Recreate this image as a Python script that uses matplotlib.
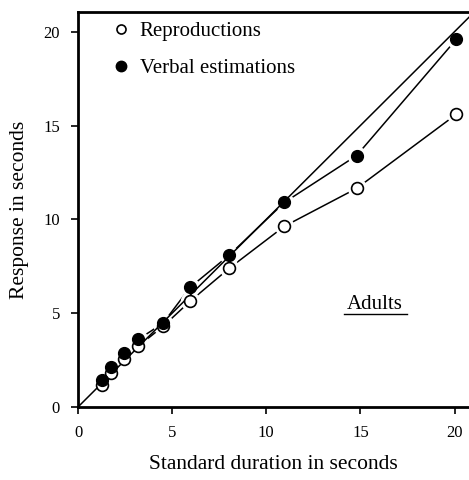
import matplotlib.pyplot as plt
from matplotlib.lines import Line2D

# === Data ===
standard = [1.28, 1.76, 2.45, 3.2, 4.52, 5.96, 8.03, 10.96, 14.8, 20.1]
reproductions = [1.17, 1.81, 2.55, 3.24, 4.3, 5.64, 7.39, 9.63, 11.65, 15.6]
verbal = [1.44, 2.13, 2.87, 3.6, 4.47, 6.38, 8.09, 10.9, 13.4, 19.6]

xticks = [0, 5, 10, 15, 20]
yticks = [0, 5, 10, 15, 20]

plt.rcParams['font.family'] = ['Liberation Serif', 'DejaVu Serif']

fig = plt.figure(figsize=(4.69, 4.80), dpi=100)
ax = fig.add_axes([78 / 469, 1 - 407 / 480, 1 - 78 / 469, (407 - 12) / 480])

xmax = 20.77
ymax = 21.05
ax.set_xlim(0, xmax)
ax.set_ylim(0, ymax)

# connecting lines with small gaps around markers
ax.plot(standard, reproductions, color='black', lw=1.1, zorder=2)
ax.plot(standard, verbal, color='black', lw=1.1, zorder=2)
ax.plot(standard, reproductions, ls='none', marker='o', ms=13, mfc='white', mec='white', zorder=3)
ax.plot(standard, verbal, ls='none', marker='o', ms=13, mfc='white', mec='white', zorder=3)

# identity line
ax.plot([0, 25], [0, 25], color='black', lw=1.1, zorder=3.5)

ax.plot(standard, reproductions, ls='none', marker='o', ms=8.5, mfc='white', mec='black', mew=1.2, zorder=4)
ax.plot(standard, verbal, ls='none', marker='o', ms=8.5, mfc='black', mec='black', zorder=5)

# spines
for s in ['left', 'bottom', 'top']:
    ax.spines[s].set_linewidth(2)
ax.spines['right'].set_visible(False)

ax.set_xticks(xticks)
ax.set_yticks(yticks)
ax.tick_params(direction='out', length=5, width=1.2, labelsize=12)
ax.tick_params(axis='x', pad=8)
ax.tick_params(axis='y', pad=8)

ax.set_xlabel("Standard duration in seconds", fontsize=15.5, labelpad=10)
ax.set_ylabel("Response in seconds", fontsize=15.5, labelpad=10)

# legend
handles = [
    Line2D([], [], ls='none', marker='o', ms=6.5, mfc='white', mec='black', mew=1.2),
    Line2D([], [], ls='none', marker='o', ms=7.5, mfc='black', mec='black'),
]
ax.legend(handles, ["Reproductions", "Verbal estimations"], loc='upper left',
          bbox_to_anchor=(0.083, 0.976), frameon=False, fontsize=15,
          handlelength=1.0, handletextpad=0.41, labelspacing=0.85,
          borderaxespad=0, borderpad=0)

# "Adults" label, underlined
ax.text(0.76, 0.248, "Adults", transform=ax.transAxes, fontsize=15,
        ha='center', va='baseline')
ax.plot([0.68, 0.841], [0.236, 0.236], transform=ax.transAxes,
        color='black', lw=1.0, clip_on=False)

plt.savefig("out.png", dpi=100)
